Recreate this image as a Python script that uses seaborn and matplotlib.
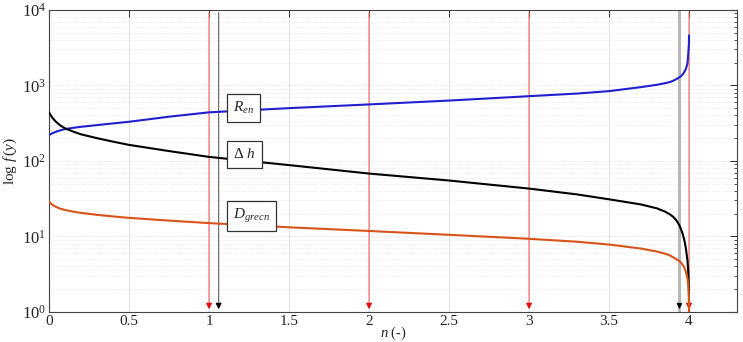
import numpy as np
import pandas as pd
import matplotlib
matplotlib.use("Agg")
import matplotlib.pyplot as plt
import seaborn as sns

# ---- data ----
n_vals = [0, 0.01, 0.02, 0.04, 0.07, 0.1, 0.15, 0.2, 0.3, 0.4, 0.5, 0.75, 1.0, 1.5, 2.0,
          2.5, 3.0, 3.3, 3.5, 3.7, 3.8, 3.85, 3.88, 3.9, 3.92, 3.94, 3.95, 3.96, 3.97,
          3.98, 3.99, 3.995, 3.999, 4.0]
r_en = [220, 226, 232, 242, 254, 264, 274, 283, 298, 314, 330, 385, 440, 500, 560,
        630, 720, 780, 840, 950, 1020, 1070, 1110, 1150, 1210, 1280, 1330, 1400, 1500,
        1650, 1950, 2600, 3500, 4600]
delta_h = [440, 405, 375, 335, 295, 270, 245, 225, 200, 180, 163, 135, 113, 88, 68,
           55, 43, 36, 31, 26.5, 23.5, 21.3, 19.6, 18.2, 16.4, 14.0, 12.4, 10.8, 9.0,
           7.0, 4.8, 3.4, 2.0, 1.0]
d_grecn = [29, 27.5, 26.3, 24.8, 23.3, 22.4, 21.3, 20.5, 19.3, 18.4, 17.6, 16.2, 15.0, 13.2, 11.8,
           10.5, 9.3, 8.5, 7.8, 6.9, 6.3, 5.9, 5.6, 5.3, 5.0, 4.7, 4.5, 4.2, 3.9,
           3.4, 2.8, 2.3, 1.6, 1.0]

red_arrow_x = [1, 2, 3, 4]
dark_arrow_x = [1.06]
light_arrow_x = [3.94]

x_ticks = [0, 0.5, 1, 1.5, 2, 2.5, 3, 3.5, 4]
x_ticklabels = ["0", "0.5", "1", "1.5", "2", "2.5", "3", "3.5", "4"]

labels = [r"$R_{en}$", r"$\Delta\ h$", r"$D_{grecn}$"]
label_x = [1.15, 1.15, 1.15]
label_y = [500, 122, 18.5]

df = pd.DataFrame({
    "n": n_vals * 3,
    "value": r_en + delta_h + d_grecn,
    "series": ["R_en"] * len(n_vals) + ["dh"] * len(n_vals) + ["D"] * len(n_vals),
})

sns.set_style("white")
plt.rcParams["font.family"] = ["Liberation Serif", "DejaVu Serif"]
plt.rcParams["mathtext.fontset"] = "custom"
plt.rcParams["mathtext.rm"] = "Liberation Serif"
plt.rcParams["mathtext.it"] = "Liberation Serif:italic"

fig = plt.figure(figsize=(7.43, 3.42), dpi=100)
ax = fig.add_axes([0.066, 0.088, 0.926, 0.883])

ax.set_yscale("log")
ax.set_xlim(0, 4.3)
ax.set_ylim(1, 1e4)

# grid
ax.grid(True, which="major", axis="x", color="#d8d8d8", lw=0.6, ls="-")
ax.grid(True, which="major", axis="y", color="#d8d8d8", lw=0.6, ls=":")
ax.grid(True, which="minor", axis="y", color="#dcdcdc", lw=0.5, ls=":")
ax.set_axisbelow(True)

# vertical arrows
for xv in light_arrow_x:
    ax.axvline(xv, color="#b8b8b8", lw=2.2, zorder=1)
    ax.annotate("", xy=(xv, 1), xytext=(xv, 1.35),
                arrowprops=dict(arrowstyle="-|>", color="black", lw=0.8, mutation_scale=8))
for xv in dark_arrow_x:
    ax.annotate("", xy=(xv, 1), xytext=(xv, 1e4),
                arrowprops=dict(arrowstyle="-|>", color="#707070", lw=0.9, mutation_scale=8),
                zorder=1)
    ax.annotate("", xy=(xv, 1), xytext=(xv, 1.35),
                arrowprops=dict(arrowstyle="-|>", color="black", lw=0.8, mutation_scale=8))
for xv in red_arrow_x:
    ax.annotate("", xy=(xv, 1), xytext=(xv, 1e4),
                arrowprops=dict(arrowstyle="-|>", color="#f07070", lw=0.9, mutation_scale=8),
                zorder=1)
    ax.annotate("", xy=(xv, 1), xytext=(xv, 1.35),
                arrowprops=dict(arrowstyle="-|>", color="#e01010", lw=0.8, mutation_scale=8))

palette = {"R_en": "#1f1fd0", "dh": "#000000", "D": "#d95319"}
sns.lineplot(data=df, x="n", y="value", hue="series", palette=palette,
             lw=1.5, ax=ax, legend=False, zorder=3)

for t, xx, yy in zip(labels, label_x, label_y):
    ax.text(xx, yy, t, fontsize=11, va="center", ha="left", zorder=5,
            bbox=dict(boxstyle="square,pad=0.4", fc="white", ec="#333333", lw=0.9))

ax.set_xticks(x_ticks)
ax.set_xticklabels(x_ticklabels)
ax.set_yticks([1, 10, 100, 1000, 10000])
ax.set_yticklabels([r"$10^{0}$", r"$10^{1}$", r"$10^{2}$", r"$10^{3}$", r"$10^{4}$"])
ax.yaxis.set_minor_locator(matplotlib.ticker.LogLocator(base=10, subs=np.arange(2, 10)))
ax.yaxis.set_minor_formatter(matplotlib.ticker.NullFormatter())
ax.tick_params(axis="both", which="both", direction="in", top=True, right=True,
               color="#333333")
ax.tick_params(axis="x", which="major", labelsize=11, pad=2)
ax.tick_params(axis="y", which="major", labelsize=12, pad=2)
ax.tick_params(axis="both", which="major", length=5)
ax.tick_params(axis="both", which="minor", length=2.5)
for s in ax.spines.values():
    s.set_color("#444444")
    s.set_linewidth(0.8)

ax.set_xlabel(r"$n$ (-)", fontsize=10.5, labelpad=-2.5)
ax.set_ylabel(r"log $f\,(y)$", fontsize=11, labelpad=2)

fig.savefig("out.png", dpi=100)
